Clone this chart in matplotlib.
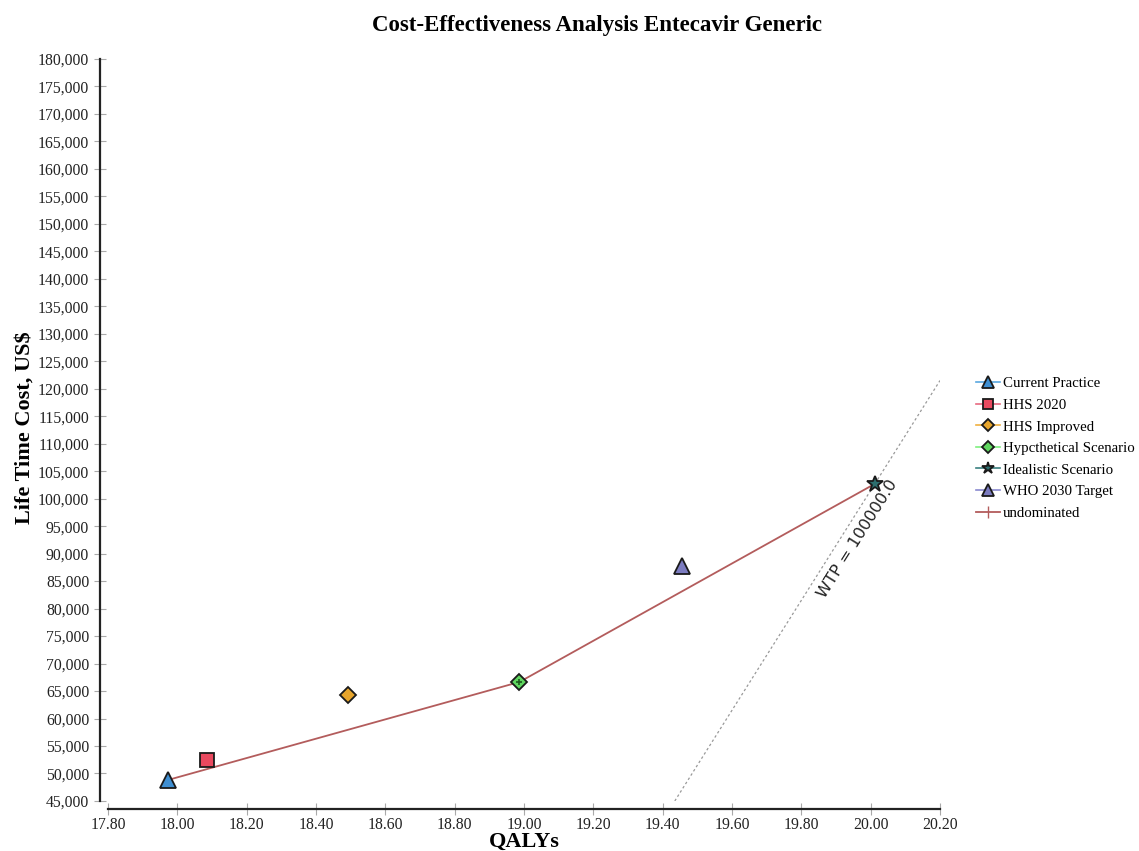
import matplotlib.pyplot as plt
from matplotlib.ticker import FuncFormatter, MultipleLocator

# strategies: QALYs and lifetime cost (US$)
strategies = ["Current Practice", "HHS 2020", "HHS Improved",
              "Hypcthetical Scenario", "Idealistic Scenario", "WHO 2030 Target"]
qalys = [17.972, 18.085, 18.491, 18.987, 20.012, 19.455]
costs = [48800, 52450, 64300, 66650, 102700, 87700]

# undominated frontier
frontier_qalys = [17.972, 18.987, 20.012]
frontier_costs = [48800, 66650, 102700]

# willingness-to-pay line
wtp = 100000.0
wtp_anchor = (20.012, 102700)

# styling per strategy
markers = ["^", "s", "D", "D", "*", "^"]
face_colors = ["#3f8fd2", "#e9495f", "#e7a52c", "#5fd65f", "#2d6f6f", "#7c7cc0"]
line_colors = ["#5aa8e0", "#e86a80", "#f0b040", "#7ef07e", "#3a8080", "#8a8ad0"]
marker_sizes = [12, 10, 8, 8, 12, 12]

plt.rcParams['font.family'] = ['Liberation Serif', 'DejaVu Serif']

fig = plt.figure(figsize=(11.39, 8.51), dpi=100)
ax = fig.add_axes([0.0948, 0.0588, 0.7305, 0.8719])

for i in range(len(strategies)):
    ax.plot(qalys[i], costs[i], marker=markers[i], markersize=marker_sizes[i],
            markerfacecolor=face_colors[i], markeredgecolor="#1a1a1a",
            markeredgewidth=1.3, color=line_colors[i], linestyle="-",
            linewidth=1.2, label=strategies[i], zorder=4)

# dotted cross pattern inside the hypothetical-scenario diamond
ax.plot(qalys[3], costs[3], marker="+", markersize=5, markeredgewidth=1.2,
        color="#1d5a1d", linestyle="none", zorder=5)

ax.plot(frontier_qalys, frontier_costs, color="#b35c5c", linewidth=1.3,
        marker="|", markersize=0, label="undominated", zorder=3)

# WTP line through the anchor point
x0, y0 = wtp_anchor
wx = [x0 - (y0 - 45000) / wtp, 20.2]
wy = [45000, y0 + (20.2 - x0) * wtp]
ax.plot(wx, wy, color="#999999", linestyle=(0, (2, 2)), linewidth=0.9, zorder=2)
ax.text(19.962, 92600, "WTP = 100000.0", rotation=57.8, ha="center", va="center",
        fontsize=11.6, family="DejaVu Sans", color="#222222")

ax.set_xlim(17.8, 20.2)
ax.set_ylim(45000, 180000)
ax.xaxis.set_major_locator(MultipleLocator(0.2))
ax.yaxis.set_major_locator(MultipleLocator(5000))
ax.xaxis.set_major_formatter(FuncFormatter(lambda v, p: f"{v:.2f}"))
ax.yaxis.set_major_formatter(FuncFormatter(lambda v, p: f"{int(round(v)):,}"))

for s in ["top", "right"]:
    ax.spines[s].set_visible(False)
for s in ["left", "bottom"]:
    ax.spines[s].set_position(("outward", 6))
    ax.spines[s].set_linewidth(1.6)
    ax.spines[s].set_color("#222222")

ax.tick_params(axis="both", direction="inout", length=8, width=0.8,
               color="#aaaaaa", labelsize=11.3, labelcolor="#222222")
ax.tick_params(axis="x", pad=1.5)

ax.set_title("Cost-Effectiveness Analysis Entecavir Generic", fontsize=16.5,
             fontweight="bold", pad=20, x=0.588)
ax.set_xlabel("QALYs", fontsize=16, fontweight="bold", labelpad=-1)
ax.set_ylabel("Life Time Cost, US$", fontsize=16, fontweight="bold")
ax.yaxis.set_label_coords(-0.088, 0.503)

leg = ax.legend(loc="upper left", bbox_to_anchor=(970 / 1139, 1 - 371 / 851),
                bbox_transform=fig.transFigure, frameon=False, fontsize=10.7,
                handlelength=1.6, handletextpad=0.2, labelspacing=0.55,
                markerscale=0.75, borderaxespad=0)
# legend handle for undominated shows a small cross mark
leg.legend_handles[-1].set_marker("|")
leg.legend_handles[-1].set_markersize(9)

fig.savefig("out.png", dpi=100)
